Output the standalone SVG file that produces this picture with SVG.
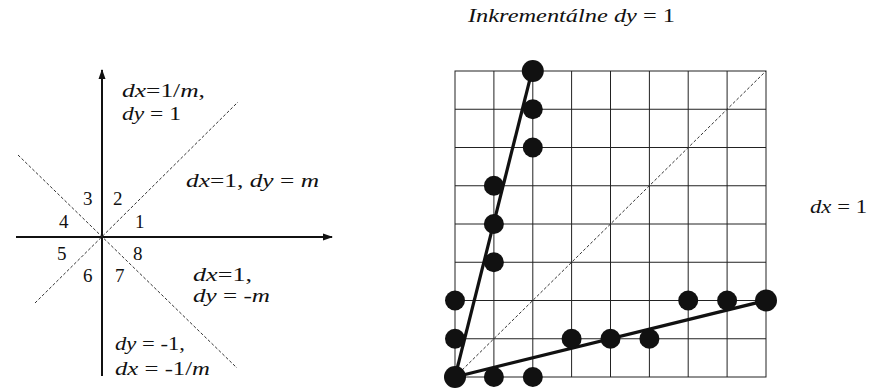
<svg xmlns="http://www.w3.org/2000/svg" width="879" height="388" viewBox="0 0 879 388">
<style>
.t{font-family:'Liberation Serif','Times New Roman',serif;font-size:19px;fill:#111}
.n{font-family:'Liberation Serif','Times New Roman',serif;font-size:19px;fill:#111}
.i{font-style:italic}
.ax{stroke:#111;stroke-width:2;fill:none}
.dash{stroke:#333;stroke-width:1;stroke-dasharray:3 2;fill:none}
.grid{stroke:#222;stroke-width:1;fill:none}
.bold{stroke:#111;stroke-width:3.2;fill:none}
.dot{fill:#111}
</style>
<defs>
<marker id="arr" viewBox="0 0 10 10" refX="9" refY="5" markerWidth="10" markerHeight="10" markerUnits="userSpaceOnUse" orient="auto">
<path d="M0,1.5 L10,5 L0,8.5 Z" fill="#111"/>
</marker>
</defs>
<rect width="879" height="388" fill="#fff"/>

<g id="octants">
<g id="connectors-left">
<line class="ax" x1="102" y1="376" x2="102" y2="70" marker-end="url(#arr)"/>
<line class="ax" x1="16" y1="237" x2="332" y2="237" marker-end="url(#arr)"/>
<line class="dash" x1="35" y1="303" x2="238" y2="102"/>
<line class="dash" x1="18" y1="155" x2="237" y2="368"/>
</g>
<g id="labels-left">
<text class="t" x="122" y="97" textLength="83" lengthAdjust="spacingAndGlyphs"><tspan class="i">dx</tspan>=1/<tspan class="i">m</tspan>,</text>
<text class="t" x="122" y="120" textLength="59" lengthAdjust="spacingAndGlyphs"><tspan class="i">dy</tspan> = 1</text>
<text class="t" x="186" y="187" textLength="133" lengthAdjust="spacingAndGlyphs"><tspan class="i">dx</tspan>=1, <tspan class="i">dy</tspan> = <tspan class="i">m</tspan></text>
<text class="t" x="193" y="281" textLength="59" lengthAdjust="spacingAndGlyphs"><tspan class="i">dx</tspan>=1,</text>
<text class="t" x="193" y="302" textLength="77" lengthAdjust="spacingAndGlyphs"><tspan class="i">dy</tspan> = -<tspan class="i">m</tspan></text>
<text class="t" x="115" y="350" textLength="70" lengthAdjust="spacingAndGlyphs"><tspan class="i">dy</tspan> = -1,</text>
<text class="t" x="115" y="375" textLength="95" lengthAdjust="spacingAndGlyphs"><tspan class="i">dx</tspan> = -1/<tspan class="i">m</tspan></text>
<text class="n" x="83" y="205">3</text>
<text class="n" x="113" y="205">2</text>
<text class="n" x="59" y="228">4</text>
<text class="n" x="135" y="228">1</text>
<text class="n" x="57" y="260">5</text>
<text class="n" x="133" y="260">8</text>
<text class="n" x="83" y="282">6</text>
<text class="n" x="115" y="282">7</text>
</g>
</g>

<g id="raster">
<text class="t" x="468" y="22" font-size="20" textLength="207" lengthAdjust="spacingAndGlyphs"><tspan class="i">Inkrementálne dy</tspan> = 1</text>
<g id="grid">
<rect class="grid" x="455" y="71" width="311" height="306"/>
<path class="grid" d="M493.9,71V377M532.8,71V377M571.6,71V377M610.5,71V377M649.4,71V377M688.2,71V377M727.1,71V377
M455,109.25H766M455,147.5H766M455,185.75H766M455,224H766M455,262.25H766M455,300.5H766M455,338.75H766"/>
</g>
<g id="connectors-right">
<line class="dash" x1="455" y1="377" x2="766" y2="71"/>
<line class="bold" x1="455" y1="377" x2="532" y2="71"/>
<line class="bold" x1="455" y1="377" x2="766" y2="300.5"/>
</g>
<g id="dots">
<circle class="dot" cx="455" cy="377" r="11"/>
<circle class="dot" cx="455" cy="338.75" r="10"/>
<circle class="dot" cx="455" cy="300.5" r="10"/>
<circle class="dot" cx="493.9" cy="262.25" r="10"/>
<circle class="dot" cx="493.9" cy="224" r="10"/>
<circle class="dot" cx="493.9" cy="185.75" r="10"/>
<circle class="dot" cx="532.8" cy="147.5" r="10"/>
<circle class="dot" cx="532.8" cy="109.25" r="10"/>
<circle class="dot" cx="532.8" cy="71" r="11"/>
<circle class="dot" cx="493.9" cy="377" r="10"/>
<circle class="dot" cx="532.8" cy="377" r="10"/>
<circle class="dot" cx="571.6" cy="338.75" r="10"/>
<circle class="dot" cx="610.5" cy="338.75" r="10"/>
<circle class="dot" cx="649.4" cy="338.75" r="10"/>
<circle class="dot" cx="688.2" cy="300.5" r="10"/>
<circle class="dot" cx="727.1" cy="300.5" r="10"/>
<circle class="dot" cx="766" cy="300.5" r="11"/>
</g>
<text class="t" x="810" y="213" textLength="57" lengthAdjust="spacingAndGlyphs"><tspan class="i">dx</tspan> = 1</text>
</g>
</svg>
